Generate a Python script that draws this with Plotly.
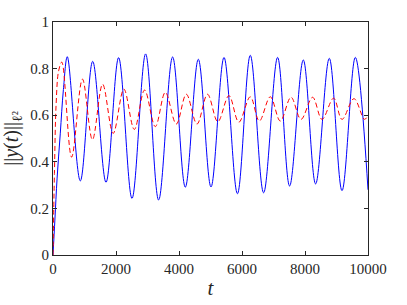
import plotly.graph_objects as go

# Blue solid series (time, value)
blue_t = [0, 60, 130, 230, 330, 454, 867, 1260, 1683, 2083, 2508, 2940, 3353, 3797, 4200,
          4613, 5016, 5429, 5855, 6263, 6686, 7130, 7511, 7946, 8337, 8771, 9175, 9597, 10000]
blue_v = [0.0, 0.15, 0.33, 0.52, 0.71, 0.851, 0.318, 0.831, 0.312, 0.847, 0.243, 0.863, 0.236, 0.850, 0.291,
          0.840, 0.292, 0.848, 0.263, 0.857, 0.267, 0.848, 0.296, 0.837, 0.305, 0.844, 0.276, 0.848, 0.28]

# Red dashed series
red_t = [0, 45, 100, 178, 280, 590, 935, 1252, 1575, 1910, 2250, 2581, 2908, 3248, 3565, 3914,
         4232, 4571, 4905, 5232, 5585, 5900, 6263, 6550, 6898, 7216, 7556, 7873, 8241, 8540,
         8908, 9175, 9555, 9890, 10000]
red_v = [0.0, 0.35, 0.65, 0.79, 0.828, 0.42, 0.755, 0.495, 0.733, 0.522, 0.712, 0.539, 0.708, 0.551, 0.698, 0.562,
         0.690, 0.562, 0.690, 0.572, 0.684, 0.570, 0.679, 0.575, 0.679, 0.575, 0.677, 0.582, 0.677, 0.582,
         0.673, 0.582, 0.671, 0.582, 0.60]

x_ticks = [0, 2000, 4000, 6000, 8000, 10000]
y_ticks = [0, 0.2, 0.4, 0.6, 0.8, 1]
y_tick_labels = ["0", "0.2", "0.4", "0.6", "0.8", "1"]

font_family = "Liberation Serif"

fig = go.Figure()
fig.add_trace(go.Scatter(x=blue_t, y=blue_v, mode="lines",
                         line=dict(color="rgb(0,0,255)", width=1, shape="spline", smoothing=1.0),
                         showlegend=False))
fig.add_trace(go.Scatter(x=red_t, y=red_v, mode="lines",
                         line=dict(color="rgb(255,0,0)", width=1, dash="5px,3px", shape="spline", smoothing=1.0),
                         showlegend=False))

axis_common = dict(showgrid=False, zeroline=False, showline=True, linecolor="#262626", linewidth=1,
                   mirror="ticks", ticks="inside", ticklen=4, tickcolor="#262626", tickwidth=1,
                   automargin=False,
                   tickfont=dict(family=font_family, size=15, color="#262626"))

fig.update_xaxes(range=[0, 10000], tickvals=x_ticks, ticktext=[str(v) for v in x_ticks],
                 title=dict(text="<i>t</i>", font=dict(family=font_family, size=21, color="#262626"), standoff=4),
                 **axis_common)
fig.update_yaxes(range=[0, 1], tickvals=y_ticks, ticktext=y_tick_labels,
                 title=dict(text="||<i>y</i>(<i>t</i>)||<sub>ℓ²</sub>",
                            font=dict(family=font_family, size=20, color="#262626"), standoff=6),
                 **axis_common)

fig.update_layout(width=407, height=305, margin=dict(l=53, r=39, t=22, b=50),
                  paper_bgcolor="white", plot_bgcolor="white")

fig.write_html("out.html", config={"displayModeBar": False, "staticPlot": True})

# remove the browser's default page margin so the figure sits at the window's corner
with open("out.html", "r", encoding="utf-8") as f:
    html = f.read()
html = html.replace("<head>", "<head><style>html,body{margin:0;padding:0;overflow:hidden;}</style>", 1)
with open("out.html", "w", encoding="utf-8") as f:
    f.write(html)
